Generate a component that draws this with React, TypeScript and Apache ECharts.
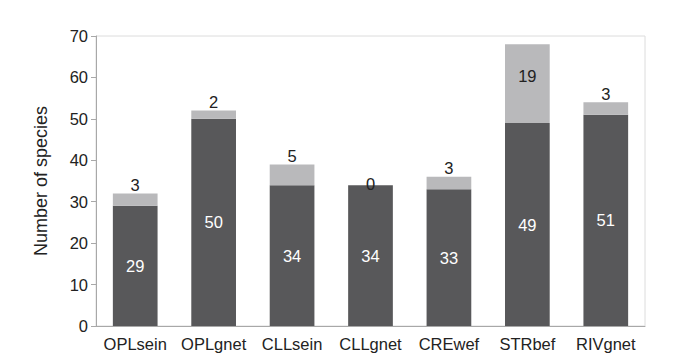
import React, { useEffect, useRef } from "react";
import * as echarts from "echarts";

const categories = ["OPLsein", "OPLgnet", "CLLsein", "CLLgnet", "CREwef", "STRbef", "RIVgnet"];
const baseValues = [29, 50, 34, 34, 33, 49, 51];
const extraValues = [3, 2, 5, 0, 3, 19, 3];
const yTicks = [0, 10, 20, 30, 40, 50, 60, 70];

const FONT = "'Liberation Sans', Arial, sans-serif";

export default function App() {
  const ref = useRef<HTMLDivElement>(null);
  useEffect(() => {
    document.body.style.margin = "0";
    if (!ref.current) return;
    const chart = echarts.init(ref.current, null, { renderer: "svg" });
    chart.setOption({
      animation: false,
      grid: {
        left: 96,
        right: 39,
        top: 36,
        bottom: 36,
        show: true,
        borderColor: "#dcdcdc",
        borderWidth: 1,
      },
      xAxis: {
        type: "category",
        data: categories,
        axisLine: { lineStyle: { color: "#a8a8a8", width: 1 } },
        axisTick: { show: false },
        axisLabel: {
          color: "#222",
          fontSize: 16.5,
          fontFamily: FONT,
          margin: 9,
          interval: 0,
          hideOverlap: false,
        },
      },
      yAxis: {
        type: "value",
        min: yTicks[0],
        max: yTicks[yTicks.length - 1],
        interval: 10,
        name: "Number of species",
        nameLocation: "middle",
        nameGap: 46,
        nameTextStyle: { color: "#222", fontSize: 18, fontFamily: FONT },
        axisLine: { show: true, lineStyle: { color: "#a8a8a8", width: 1 } },
        axisTick: { show: true, length: 5, lineStyle: { color: "#a8a8a8" } },
        splitLine: { show: false },
        axisLabel: { color: "#222", fontSize: 16.5, fontFamily: FONT, margin: 8 },
      },
      series: [
        {
          type: "bar",
          stack: "s",
          data: baseValues,
          barWidth: "57%",
          itemStyle: { color: "#58585a" },
          label: {
            show: true,
            position: "inside",
            color: "#fff",
            fontSize: 16.5,
            fontFamily: FONT,
          },
        },
        {
          type: "bar",
          stack: "s",
          barWidth: "57%",
          itemStyle: { color: "#b9b9bb" },
          data: extraValues.map((v) => {
            const big = v >= 10;
            return {
              value: v,
              label: big
                ? { show: true, position: "inside", offset: [0, -8] }
                : { show: true, position: "top", distance: v === 0 ? -7 : 0 },
            };
          }),
          label: {
            show: true,
            color: "#222",
            fontSize: 16.5,
            fontFamily: FONT,
          },
        },
      ],
    });
    return () => chart.dispose();
  }, []);
  return <div ref={ref} style={{ width: 684, height: 362 }} />;
}
